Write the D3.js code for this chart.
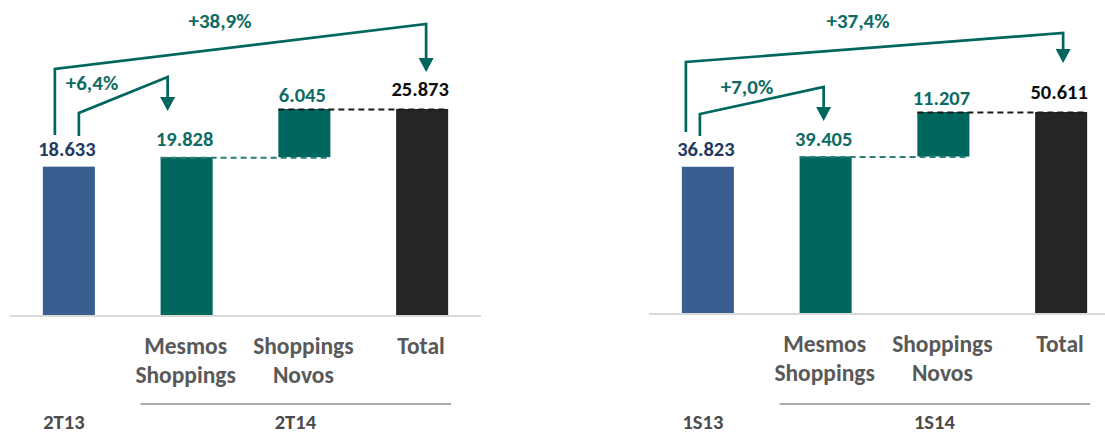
<!DOCTYPE html>
<html>
<head>
<meta charset="utf-8">
<script src="https://cdn.jsdelivr.net/npm/d3@7"></script>
<style>
  html, body { margin: 0; padding: 0; background: #ffffff; }
  svg { display: block; font-family: Carlito, Calibri, Lato, "Open Sans", sans-serif; font-weight: 700; }
</style>
</head>
<body>
<svg id="chart" width="1105" height="434"></svg>
<script>
// Waterfall steps: opening period, same-store growth, new malls, closing total
const categoryLines = [[], ["Mesmos", "Shoppings"], ["Shoppings", "Novos"], ["Total"]];

// Quarter comparison (2T13 -> 2T14)
const quarterPeriods = ["2T13", "2T14"];
const quarterValues = [18633, 19828, 6045, 25873];

// Semester comparison (1S13 -> 1S14)
const semesterPeriods = ["1S13", "1S14"];
const semesterValues = [36823, 39405, 11207, 50611];

const COLORS = {
  base: "#385F90",
  teal: "#00675F",
  total: "#262626",
  baseLabel: "#1F3A60",
  tealLabel: "#0E6B63",
  totalLabel: "#0d0d0d",
  category: "#595959",
  period: "#4a4a4a",
  axis: "#d9d9d9",
  rule: "#595959"
};

const ptBR = d3.formatLocale({ decimal: ",", thousands: ".", grouping: [3], currency: ["R$", ""], percent: "%" });
const fmtValue = ptBR.format(",d");
const fmtGrowth = ptBR.format("+.1%");

const svg = d3.select("#chart");

function drawPanel(values, periods, layout) {
  const g = svg.append("g");
  const idx = d3.range(values.length);

  const x = d3.scaleBand()
    .domain(idx)
    .range([layout.x0, layout.x1])
    .paddingInner(0.558)
    .paddingOuter(0.279);

  const total = values[3];
  const y = d3.scaleLinear().domain([0, total]).range([layout.base, layout.top]);

  // Segment extents for each step of the waterfall
  const segs = [
    { lo: 0, hi: values[0], fill: COLORS.base },
    { lo: 0, hi: values[1], fill: COLORS.teal },
    { lo: values[1], hi: values[1] + values[2], fill: COLORS.teal },
    { lo: 0, hi: values[3], fill: COLORS.total }
  ];
  const cx = i => x(i) + x.bandwidth() / 2;

  // baseline
  g.append("line")
    .attr("x1", layout.x0).attr("x2", layout.x1)
    .attr("y1", layout.base + 1).attr("y2", layout.base + 1)
    .attr("stroke", COLORS.axis).attr("stroke-width", 2);

  g.selectAll("rect.bar").data(segs).join("rect")
    .attr("class", "bar")
    .attr("x", (d, i) => x(i))
    .attr("width", x.bandwidth())
    .attr("y", d => y(d.hi))
    .attr("height", d => y(d.lo) - y(d.hi))
    .attr("fill", d => d.fill);

  // connector dashes
  g.append("line")
    .attr("x1", x(1)).attr("x2", x(2) + x.bandwidth())
    .attr("y1", y(values[1]) + 0.5).attr("y2", y(values[1]) + 0.5)
    .attr("stroke", "#2a7f78").attr("stroke-width", 2)
    .attr("stroke-dasharray", "6,4");
  g.append("line")
    .attr("x1", x(2)).attr("x2", x(3) + x.bandwidth())
    .attr("y1", y(total) + 0.5).attr("y2", y(total) + 0.5)
    .attr("stroke", "#1a1a1a").attr("stroke-width", 2)
    .attr("stroke-dasharray", "6,4");

  // value labels
  const labelColors = [COLORS.baseLabel, COLORS.tealLabel, COLORS.tealLabel, COLORS.totalLabel];
  const labelGap = [11, 11, 7, 13];
  g.selectAll("text.val").data(values).join("text")
    .attr("class", "val")
    .attr("x", (d, i) => cx(i) - 2)
    .attr("y", (d, i) => y(segs[i].hi) - labelGap[i])
    .attr("text-anchor", "middle")
    .attr("font-size", 20.5)
    .attr("fill", (d, i) => labelColors[i])
    .text(d => fmtValue(d));

  // category labels
  idx.forEach(i => {
    categoryLines[i].forEach((line, k) => {
      g.append("text")
        .attr("x", cx(i) - 1)
        .attr("y", layout.catY + k * 29)
        .attr("text-anchor", "middle")
        .attr("font-size", 23.5)
        .attr("fill", COLORS.category)
        .text(line);
    });
  });

  // period rule and labels
  g.append("line")
    .attr("x1", x(1) - 20).attr("x2", x(3) + x.bandwidth() + 3)
    .attr("y1", 404).attr("y2", 404)
    .attr("stroke", COLORS.rule).attr("stroke-width", 1.2);
  g.append("text")
    .attr("x", cx(0) - 5).attr("y", 429)
    .attr("text-anchor", "middle").attr("font-size", 20.5)
    .attr("fill", COLORS.period).text(periods[0]);
  g.append("text")
    .attr("x", (cx(1) + cx(3)) / 2 - 9).attr("y", 429)
    .attr("text-anchor", "middle").attr("font-size", 20.5)
    .attr("fill", COLORS.period).text(periods[1]);

  // growth arrows
  const arrows = [
    { to: 1, a: layout.small, label: fmtGrowth(values[1] / values[0] - 1) },
    { to: 3, a: layout.big, label: fmtGrowth(values[3] / values[0] - 1) }
  ];
  arrows.forEach(({ to, a, label }) => {
    const xs = cx(0) + a.dxStart;
    const xe = cx(to) + a.dxEnd;
    const head = 14;
    g.append("path")
      .attr("d", d3.line()([[xs, a.yStart], [xs, a.yLeft], [xe, a.yRight], [xe, a.yTip - head + 1]]))
      .attr("fill", "none")
      .attr("stroke", COLORS.teal)
      .attr("stroke-width", 2.7)
      .attr("stroke-linejoin", "miter");
    g.append("path")
      .attr("d", `M${xe - 7.5},${a.yTip - head} L${xe + 7.5},${a.yTip - head} L${xe},${a.yTip} Z`)
      .attr("fill", COLORS.teal);
    g.append("text")
      .attr("x", a.labelX).attr("y", a.labelY)
      .attr("text-anchor", "middle")
      .attr("font-size", 21)
      .attr("fill", COLORS.tealLabel)
      .text(label);
  });
}

drawPanel(quarterValues, quarterPeriods, {
  x0: 10, x1: 481, base: 315, top: 109, catY: 354,
  small: { dxStart: 10, dxEnd: -19, yStart: 136, yLeft: 113, yRight: 77, yTip: 111, labelX: 92, labelY: 90 },
  big: { dxStart: -14, dxEnd: 4, yStart: 135, yLeft: 69, yRight: 24, yTip: 72, labelX: 220, labelY: 28 }
});

drawPanel(semesterValues, semesterPeriods, {
  x0: 649, x1: 1120, base: 313, top: 112, catY: 352,
  small: { dxStart: -8, dxEnd: -2, yStart: 136, yLeft: 114, yRight: 87, yTip: 121, labelX: 747, labelY: 94 },
  big: { dxStart: -22, dxEnd: 2, yStart: 132, yLeft: 62, yRight: 33, yTip: 63, labelX: 858, labelY: 28 }
});
</script>
</body>
</html>
